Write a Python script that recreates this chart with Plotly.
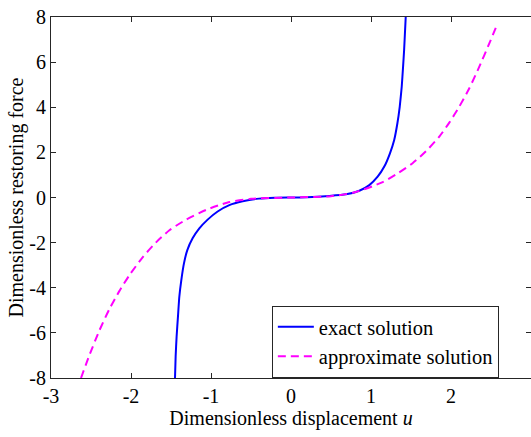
import plotly.graph_objects as go

# Values
u_exact = [-1.450, -1.442, -1.430, -1.413, -1.396, -1.371, -1.338, -1.296, -1.23, -1.146, -1.042,
           -0.917, -0.771, -0.604, -0.40, -0.20, 0.0, 0.20, 0.479, 0.688, 0.854, 0.979, 1.083,
           1.166, 1.237, 1.29, 1.33, 1.359, 1.384, 1.401, 1.414, 1.426, 1.434]
f_exact = [-8.0, -7.05, -6.17, -5.28, -4.40, -3.66, -2.92, -2.33, -1.81, -1.37, -0.98,
           -0.62, -0.34, -0.17, -0.05, -0.01, 0.0, 0.01, 0.07, 0.14, 0.30, 0.55, 0.92,
           1.37, 1.96, 2.55, 3.29, 4.02, 4.91, 5.80, 6.54, 7.42, 8.0]

u_approx = [-2.625, -2.521, -2.396, -2.271, -2.146, -2.021, -1.855, -1.69, -1.52, -1.31, -1.06,
            -0.80, -0.50, 0.0, 0.50, 0.80, 1.146, 1.312, 1.52, 1.687, 1.854, 1.979, 2.104,
            2.229, 2.354, 2.479, 2.583]
f_approx = [-8.0, -7.0, -5.9, -4.95, -4.15, -3.45, -2.65, -2.0, -1.45, -0.98, -0.55,
            -0.23, -0.06, 0.0, 0.06, 0.23, 0.68, 1.02, 1.52, 2.05, 2.70, 3.32, 4.03,
            4.84, 5.80, 6.83, 7.72]

x_ticks = [-3, -2, -1, 0, 1, 2, 3]
y_ticks = [-8, -6, -4, -2, 0, 2, 4, 6, 8]

FONT = "Liberation Serif"
AXC = "#262626"
FS = 20

fig = go.Figure()
fig.add_trace(go.Scatter(x=u_exact, y=f_exact, mode="lines", name="exact solution",
                         line=dict(color="#0000FF", width=2, shape="spline", smoothing=0.5)))
fig.add_trace(go.Scatter(x=u_approx, y=f_approx, mode="lines", name="approximate solution",
                         line=dict(color="#FF00FF", width=2, dash="8px,5px", shape="spline", smoothing=0.6)))

fig.update_layout(
    width=531, height=437,
    margin=dict(l=51, r=0, t=17, b=59),
    paper_bgcolor="white", plot_bgcolor="white",
    font=dict(family=FONT, size=FS, color="black"),
    showlegend=True,
    legend=dict(x=0.933, y=0.10, xanchor="right", yanchor="middle",
                bgcolor="white", bordercolor=AXC, borderwidth=1,
                font=dict(family=FONT, size=20.5, color="black"),
                itemwidth=36, tracegroupgap=0),
)
fig.update_xaxes(range=[-3, 3], tickvals=x_ticks, ticktext=[str(v) for v in x_ticks],
                 showgrid=False, zeroline=False, showline=True, linecolor=AXC, linewidth=1,
                 mirror="allticks", ticks="inside", ticklen=5, tickcolor=AXC,
                 tickfont=dict(family=FONT, size=FS),
                 title=dict(text="Dimensionless displacement <i>u</i>", standoff=3,
                            font=dict(family=FONT, size=FS)))
fig.update_yaxes(range=[-8, 8], tickvals=y_ticks, ticktext=[str(v) for v in y_ticks],
                 showgrid=False, zeroline=False, showline=True, linecolor=AXC, linewidth=1,
                 mirror="allticks", ticks="inside", ticklen=5, tickcolor=AXC,
                 tickfont=dict(family=FONT, size=FS),
                 title=dict(text="Dimensionless restoring force", standoff=0,
                            font=dict(family=FONT, size=FS)))

fig.write_html("out.html")
